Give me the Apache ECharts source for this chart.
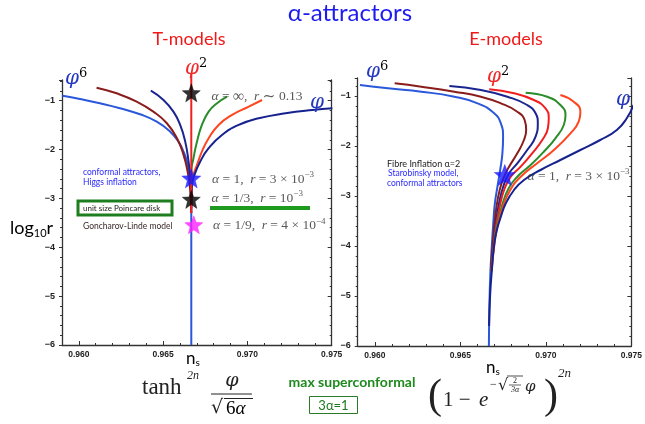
<!DOCTYPE html>
<html><head><meta charset="utf-8">
<script src="https://cdn.jsdelivr.net/npm/echarts@6/dist/echarts.min.js"></script>
<style>html,body{margin:0;padding:0;background:#fff}#c{width:645px;height:424px}</style>
</head><body><div id="c"></div>
<script>
// ---------- data ----------
const xMajorTicks = [0.960, 0.965, 0.970, 0.975];
const yTickLabels = [-6, -5, -4, -3, -2, -1];

// T-models (left panel): [n_s, log10 r]
const tPhi6 = [[0.95903,-0.898],[0.96006,-0.965],[0.96125,-1.053],[0.96244,-1.155],[0.96363,-1.278],[0.96462,-1.429],[0.96542,-1.634],[0.96591,-1.838],[0.96621,-2.043],[0.96641,-2.247],[0.96655,-2.519],[0.96664,-2.83],[0.96667,-3.2],[0.96667,-6]];
const tPhi4 = [[0.96105,-0.734],[0.96224,-0.849],[0.96343,-1.020],[0.96442,-1.225],[0.96522,-1.462],[0.96582,-1.769],[0.96621,-2.110],[0.96645,-2.452],[0.96660,-2.8],[0.96667,-3.3]];
const tPhi3 = [[0.96427,-0.796],[0.96502,-0.986],[0.96561,-1.225],[0.96601,-1.497],[0.96631,-1.838],[0.96651,-2.247],[0.96662,-2.6],[0.96667,-3.0]];
const tPhi2 = [[0.96667,-0.45],[0.96667,-3.3]];
const tPhi15 = [[0.96879,-0.918],[0.96820,-1.053],[0.96770,-1.225],[0.96730,-1.497],[0.96701,-1.838],[0.96680,-2.178],[0.96667,-2.452],[0.96667,-3.0]];
const tPhi125 = [[0.97087,-0.986],[0.97008,-1.123],[0.96909,-1.292],[0.96829,-1.497],[0.96770,-1.769],[0.96730,-2.043],[0.96701,-2.315],[0.96680,-2.519],[0.96670,-2.8],[0.96667,-3.2]];
const tPhi1 = [[0.97504,-1.155],[0.97385,-1.190],[0.97226,-1.258],[0.97067,-1.360],[0.96948,-1.497],[0.96849,-1.701],[0.96770,-1.973],[0.96720,-2.247],[0.96686,-2.519],[0.96671,-2.724],[0.96667,-3.2]];
const tStarInf = [[0.96667,-0.84]];
const tStar1 = [[0.96667,-2.59]];
const tStar3 = [[0.96667,-3.02]];
const tStar9 = [[0.96682,-3.54]];

// E-models (right panel)
const ePhi6 = [[0.95913,-0.78],[0.96077,-0.846],[0.96272,-0.914],[0.96465,-1.014],[0.96601,-1.146],[0.96698,-1.346],[0.96737,-1.546],[0.96750,-1.814],[0.96746,-2.146],[0.96733,-2.48],[0.96717,-2.814],[0.96702,-3.146],[0.96694,-3.48],[0.96684,-4.0],[0.96675,-4.6],[0.96670,-5.2],[0.96667,-6]];
const ePhi4 = [[0.96116,-0.746],[0.96272,-0.814],[0.96465,-0.914],[0.96620,-1.014],[0.96737,-1.146],[0.96833,-1.314],[0.96876,-1.48],[0.96885,-1.68],[0.96872,-1.88],[0.96833,-2.146],[0.96785,-2.414],[0.96756,-2.614],[0.96730,-2.88],[0.96710,-3.25],[0.96696,-3.7],[0.96686,-4.1],[0.96678,-4.5]];
const ePhi3 = [[0.96436,-0.8],[0.96620,-0.88],[0.96775,-1.014],[0.96891,-1.18],[0.96940,-1.346],[0.96953,-1.546],[0.96940,-1.814],[0.96891,-2.08],[0.96833,-2.346],[0.96785,-2.546],[0.96752,-2.8],[0.96726,-3.15],[0.96706,-3.6],[0.96692,-4.0],[0.96680,-4.5]];
const ePhi2 = [[0.96669,-0.866],[0.96814,-0.946],[0.96930,-1.08],[0.96998,-1.246],[0.97017,-1.446],[0.97012,-1.646],[0.96979,-1.88],[0.96920,-2.146],[0.96853,-2.414],[0.96795,-2.614],[0.96759,-2.85],[0.96731,-3.2],[0.96709,-3.6],[0.96694,-4.0],[0.96681,-4.5]];
const ePhi15 = [[0.96882,-0.934],[0.97008,-1.014],[0.97085,-1.18],[0.97115,-1.38],[0.97105,-1.58],[0.97056,-1.846],[0.96988,-2.114],[0.96911,-2.38],[0.96833,-2.614],[0.96782,-2.85],[0.96743,-3.2],[0.96713,-3.6],[0.96696,-4.0],[0.96682,-4.5]];
const ePhi125 = [[0.97085,-0.98],[0.97163,-1.114],[0.97202,-1.314],[0.97192,-1.514],[0.97144,-1.746],[0.97047,-2.08],[0.96949,-2.346],[0.96853,-2.614],[0.96792,-2.88],[0.96750,-3.2],[0.96717,-3.6],[0.96698,-4.0],[0.96683,-4.5]];
const ePhi1 = [[0.97512,-1.18],[0.97473,-1.446],[0.97415,-1.68],[0.97318,-1.88],[0.97202,-2.08],[0.97085,-2.28],[0.96969,-2.48],[0.96872,-2.68],[0.96814,-2.88],[0.96766,-3.146],[0.96737,-3.414],[0.96712,-3.7],[0.96697,-4.0],[0.96684,-4.5],[0.96674,-5.0],[0.96668,-5.6]];
const eStar1 = [[0.96760,-2.58]];

// ---------- styling ----------
const C = {phi6:'#2b57da', phi4:'#8a1c1c', phi3:'#1b2590', phi2:'#f02020', phi15:'#2a8c2a', phi125:'#ff4520', phi1:'#16228e'};
const STAR = 'path://M0,-10 L2.47,-3.4 L9.51,-3.09 L3.99,1.3 L5.88,8.09 L0,4.2 L-5.88,8.09 L-3.99,1.3 L-9.51,-3.09 L-2.47,-3.4 Z';
const SERIF = '"Liberation Serif","DejaVu Serif",serif';
const SANS = 'Lato,"Open Sans",sans-serif';
const MC = '#2e2e2e';
const mathRich = {
  i:{fontFamily:SERIF, fontStyle:'italic', fontSize:13.5, color:MC, lineHeight:18},
  n:{fontFamily:SERIF, fontSize:13.5, color:MC, lineHeight:18},
  w:{fontFamily:SERIF, fontSize:15.5, color:MC, lineHeight:18},
  s:{fontFamily:SERIF, fontSize:9, color:MC, lineHeight:9, verticalAlign:'top'}
};

function xAxes(grid){
  return [{
    gridIndex:grid, type:'value', position:'bottom', min:0.959, max:0.975, interval:0.001,
    axisLine:{show:true, onZero:false, lineStyle:{color:'#333', width:1.3}},
    axisTick:{show:true, inside:true, length:2, lineStyle:{color:'#333'}},
    axisLabel:{show:true, margin:5, color:'#222', fontSize:8.5, fontWeight:'bold', fontFamily:'"Liberation Sans",Arial',
      formatter:v=>{const k=Math.round(v*1000); return (k%5===0)?(k/1000).toFixed(3):'';}},
    splitLine:{show:false}
  },{
    gridIndex:grid, type:'value', position:'bottom', min:0.959, max:0.975,
    axisLine:{show:false},
    axisTick:{show:true, inside:true, length:4, customValues:xMajorTicks, lineStyle:{color:'#333'}},
    axisLabel:{show:false}, splitLine:{show:false}
  }];
}
function yAxes(grid, ymax){
  const base = {gridIndex:grid, type:'value', min:-6, max:ymax, interval:1, splitLine:{show:false},
    axisLine:{show:true, onZero:false, lineStyle:{color:'#333', width:1.3}},
    minorTick:{show:true, splitNumber:5, length:2, lineStyle:{color:'#333'}}};
  return [Object.assign({}, base, {position:'left',
      axisTick:{show:true, inside:false, length:3, lineStyle:{color:'#333'}},
      axisLabel:{show:true, margin:7, color:'#222', fontSize:9, fontWeight:'bold', fontFamily:'"Liberation Sans",Arial',
        formatter:v=> (yTickLabels.indexOf(Math.round(v))>=0 && Math.abs(v-Math.round(v))<1e-6) ? '\u2212'+Math.abs(Math.round(v)) : ''}}),
    Object.assign({}, base, {position:'right',
      axisTick:{show:true, inside:true, length:4, lineStyle:{color:'#333'}},
      minorTick:{show:true, splitNumber:5, length:2, lineStyle:{color:'#333'}},
      axisLabel:{show:false}})];
}
function curve(data, color, xi, yi, z, extra){
  return Object.assign({type:'line', data:data, xAxisIndex:xi, yAxisIndex:yi, showSymbol:false, symbol:'none',
    smooth:0.5, lineStyle:{color:color, width:2}, z:z, silent:true, animation:false}, extra||{});
}
function star(data, color, size, xi, yi, label){
  return {type:'scatter', data:data, xAxisIndex:xi, yAxisIndex:yi, symbol:STAR, symbolSize:size,
    itemStyle:{color:color, borderColor:color, borderWidth:0.5}, z:10, animation:false, silent:true,
    label: label ? Object.assign({show:true, position:'right', rich:mathRich}, label) : {show:false}};
}

const series = [
  curve(tPhi6, C.phi6, 0, 0, 2),
  curve(tPhi4, C.phi4, 0, 0, 3),
  curve(tPhi3, C.phi3, 0, 0, 3),
  curve(tPhi15, C.phi15, 0, 0, 3),
  curve(tPhi125, C.phi125, 0, 0, 3),
  curve(tPhi1, C.phi1, 0, 0, 3),
  curve(tPhi2, C.phi2, 0, 0, 4, {smooth:false, clip:false}),
  star(tStarInf, '#000', 18, 0, 0, {distance:11, offset:[0,4], formatter:'{i|α} {n|=} {w|∞}{n|,}  {i|r} {w|∼} {n|0.13}'}),
  star(tStar1, '#1a1aff', 19, 0, 0, {distance:11, offset:[0,1], formatter:'{i|α} {n|= 1,}  {i|r} {n|= 3 × 10}{s|−3}'}),
  star(tStar3, '#000', 18, 0, 0, {distance:11, offset:[0,-1], formatter:'{i|α} {n|= 1/3,}  {i|r} {n|= 10}{s|−3}'}),
  star(tStar9, '#ff22ff', 18, 0, 0, {distance:10, offset:[0,1], formatter:'{i|α} {n|= 1/9,}  {i|r} {n|= 4 × 10}{s|−4}'}),

  curve(ePhi6, C.phi6, 2, 2, 2),
  curve(ePhi4, C.phi4, 2, 2, 3),
  curve(ePhi3, C.phi3, 2, 2, 3),
  curve(ePhi2, C.phi2, 2, 2, 3),
  curve(ePhi15, C.phi15, 2, 2, 3),
  curve(ePhi125, C.phi125, 2, 2, 3),
  curve(ePhi1, C.phi1, 2, 2, 3),
  star(eStar1, '#1a1aff', 21, 2, 2, {distance:12, offset:[0,1], formatter:'{i|α} {n|= 1,}  {i|r} {n|= 3 × 10}{s|−3}'})
];

function t(text, x, y, font, fill, align, extra){
  return Object.assign({type:'text', z:100, silent:true, style:{text:text, x:x, y:y, font:font, fill:fill,
    textAlign:align||'left', textVerticalAlign:'middle'}}, extra||{});
}
function rt(text, x, y, rich, align){
  return {type:'text', z:100, silent:true, style:{text:text, x:x, y:y, rich:rich, textAlign:align||'left', textVerticalAlign:'middle'}};
}
function ln(x1,y1,x2,y2,color,w){
  return {type:'line', z:100, silent:true, shape:{x1:x1,y1:y1,x2:x2,y2:y2}, style:{stroke:color, lineWidth:w}};
}
const phiBlue = '#2438c0';
const phiRich = (c)=>({p:{fontFamily:'"DejaVu Serif",serif', fontStyle:'italic', fontSize:20, fill:c, color:c, lineHeight:24},
                       e:{fontFamily:'"DejaVu Serif",serif', fontSize:13, color:c, lineHeight:12, verticalAlign:'top'}});

const graphic = [
  t('α-attractors', 350, 13, '24px '+SANS, '#1c1cf0', 'center'),
  t('T-models', 189, 39, '18px '+SANS, '#f01818', 'center'),
  t('E-models', 506, 39, '18px '+SANS, '#f01818', 'center'),
  // curve names
  rt('{p|φ}{e|6}', 65, 79, phiRich(phiBlue)),
  rt('{p|φ}{e|2}', 185, 69, phiRich('#f02a2a')),
  rt('{p|φ}', 310, 103, phiRich(phiBlue)),
  rt('{p|φ}{e|6}', 366, 72, phiRich(phiBlue)),
  rt('{p|φ}{e|2}', 487, 77, phiRich('#f02a2a')),
  rt('{p|φ}', 616, 100, phiRich(phiBlue)),
  // axis names
  rt('{a|log}{b|10}{a|r}', 10, 228, {a:{fontFamily:SANS, fontSize:18, color:'#111', lineHeight:22}, b:{fontFamily:SANS, fontSize:11, color:'#111', lineHeight:11, verticalAlign:'bottom'}}),
  rt('{a|n}{b|s}', 186, 359, {a:{fontFamily:SANS, fontSize:17, color:'#111', lineHeight:18}, b:{fontFamily:SANS, fontSize:10, color:'#111', lineHeight:10, verticalAlign:'bottom'}}),
  rt('{a|n}{b|s}', 486, 368, {a:{fontFamily:SANS, fontSize:17, color:'#111', lineHeight:18}, b:{fontFamily:SANS, fontSize:10, color:'#111', lineHeight:10, verticalAlign:'bottom'}}),
  // left annotations
  t('conformal attractors,', 83, 172, '8.5px '+SANS, '#2a2aff'),
  t('Higgs inflation', 83, 182, '8.5px '+SANS, '#2a2aff'),
  {type:'rect', z:100, silent:true, shape:{x:78, y:201, width:94, height:14}, style:{fill:'#fff', stroke:'#1e7d1e', lineWidth:3}},
  t('unit size Poincare disk', 83, 208.5, '8px '+SANS, '#222'),
  t('Goncharov-Linde model', 83, 226, '8.5px '+SANS, '#3a2a2a'),
  {type:'rect', z:100, silent:true, shape:{x:210, y:206, width:100, height:4}, style:{fill:'#1e9a1e'}},
  // right annotations
  t('Fibre Inflation α=2', 387, 164, '9px '+SANS, '#222'),
  t('Starobinsky model,', 388, 173.5, '8.5px '+SANS, '#2a2aff'),
  t('conformal attractors', 387, 183.5, '8.5px '+SANS, '#2a2aff'),
  // bottom left formula
  t('tanh', 142, 388, '23px '+SERIF, '#222'),
  t('2n', 187, 376, 'italic 12px '+SERIF, '#222'),
  t('φ', 232, 381, 'italic 19px "DejaVu Serif",serif', '#222', 'center'),
  ln(211, 394, 252, 394, '#222', 1),
  t('√', 211, 408, '19px "DejaVu Serif",serif', '#222'),
  ln(224, 398.5, 253, 398.5, '#222', 1),
  rt('{a|6}{b|α}', 226, 409, {a:{fontFamily:SERIF, fontSize:19, color:'#222'}, b:{fontFamily:SERIF, fontStyle:'italic', fontSize:19, color:'#222'}}),
  // middle
  t('max superconformal', 352, 382, 'bold 14px '+SANS, '#1e8a1e', 'center'),
  {type:'rect', z:100, silent:true, shape:{x:309.5, y:396.5, width:48, height:17}, style:{fill:'#fff', stroke:'#2a7a2a', lineWidth:1}},
  t('3α=1', 333.5, 405.5, '13px '+SANS, '#1e7a1e', 'center'),
  // bottom right formula
  t('(', 428, 397, '42px '+SERIF, '#222'),
  t('1 − ', 443, 400, '21px '+SERIF, '#222'),
  t('e', 479, 400, 'italic 21px '+SERIF, '#222'),
  t('−', 490, 385, '12px '+SERIF, '#222'),
  t('√', 498, 386, '16px "DejaVu Serif",serif', '#222'),
  ln(507, 376, 523, 376, '#222', 0.8),
  t('2', 515, 380.5, '8px '+SERIF, '#222', 'center'),
  ln(509, 385, 521, 385, '#222', 0.7),
  t('3α', 515, 390, 'italic 8px '+SERIF, '#222', 'center'),
  t('φ', 525, 387, 'italic 15px "DejaVu Serif",serif', '#222'),
  t(')', 544, 397, '42px '+SERIF, '#222'),
  t('2n', 558, 374, 'italic 13px '+SERIF, '#222')
];

const option = {
  animation:false,
  backgroundColor:'#fff',
  grid:[{left:62, top:80, width:269.7, height:265, containLabel:false},
        {left:357.7, top:78, width:276.6, height:268, containLabel:false}],
  xAxis:[...xAxes(0), ...xAxes(1)],
  yAxis:[...yAxes(0, -0.577), ...yAxes(1, -0.64)],
  series:series,
  graphic:graphic
};
const chart = echarts.init(document.getElementById('c'), null, {renderer:'canvas'});
chart.setOption(option);
</script></body></html>
